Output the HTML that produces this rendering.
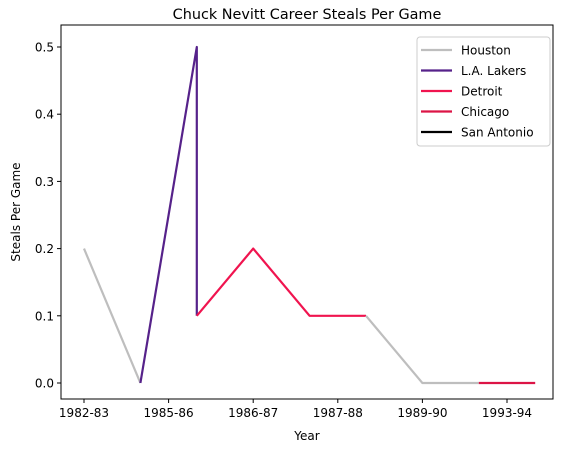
<!DOCTYPE html>
<html><head><meta charset="utf-8"><style>
body{margin:0;background:#fff;font-family:"Liberation Sans","DejaVu Sans",sans-serif}
svg text{font-family:"DejaVu Sans","Liberation Sans",sans-serif;fill:#000}
</style></head><body>
<svg id="c" width="570" height="453" xmlns="http://www.w3.org/2000/svg"></svg>
<script>
const teamNames=["Houston","L.A. Lakers","Detroit","Chicago","San Antonio"];
const teamColors=["#bebebe","#56228a","#f0144f","#dc1446","#000000"];
const houstonA=[[0,0.2],[1,0]];
const lakers=[[1,0],[2,0.5],[2,0.1]];
const detroit=[[2,0.1],[3,0.2],[4,0.1],[5,0.1]];
const houstonB=[[5,0.1],[6,0],[7,0]];
const chicago=[[7,0],[8,0]];
const xTickPos=[0,1.5,3,4.5,6,7.5];
const xTickLabels=["1982-83","1985-86","1986-87","1987-88","1989-90","1993-94"];
const yTicks=[0,0.1,0.2,0.3,0.4,0.5];
const yTickLabels=["0.0","0.1","0.2","0.3","0.4","0.5"];

const svg=document.getElementById('c');const NS="http://www.w3.org/2000/svg";
const L=61,R=553,T=25,B=399;
const X=v=>84+v*56.4;
const Y=v=>383-v*672;
function mk(t,a,p){const e=document.createElementNS(NS,t);for(const k in a)e.setAttribute(k,a[k]);(p||svg).appendChild(e);return e;}
function txt(s,a){const e=mk('text',a);e.textContent=s;return e;}
const series=[[houstonA,0],[lakers,1],[detroit,2],[houstonB,0],[chicago,3]];
series.forEach(([d,ci],i)=>{
 const p=mk('polyline',{points:d.map(q=>X(q[0])+','+Y(q[1])).join(' '),fill:'none',stroke:teamColors[ci],'stroke-width':2.2,'stroke-linejoin':'round'});
 
 
});
const frame=mk('rect',{x:L,y:T,width:R-L,height:B-T,fill:'none',stroke:'#000','stroke-width':1});


xTickPos.forEach((v,i)=>{
 const t=mk('line',{x1:X(v),x2:X(v),y1:B,y2:B+4,stroke:'#000'});
 
 
 const l=txt(xTickLabels[i],{x:X(v),y:B+18,'text-anchor':'middle','font-size':12});
 
 
});
yTicks.forEach((v,i)=>{
 const t=mk('line',{x1:L-4,x2:L,y1:Y(v),y2:Y(v),stroke:'#000'});
 
 
 const l=txt(yTickLabels[i],{x:L-7,y:Y(v)+4.5,'text-anchor':'end','font-size':12});
 
 
});
const ti=txt("Chuck Nevitt Career Steals Per Game",{x:(L+R)/2,y:19,'text-anchor':'middle','font-size':14.4});


const xt=txt("Year",{x:(L+R)/2,y:440,'text-anchor':'middle','font-size':12});


const yt=txt("Steals Per Game",{x:0,y:0,'text-anchor':'middle','font-size':12,transform:'translate(20,'+((T+B)/2)+') rotate(-90)'});


const lg=mk('g',{});


mk('rect',{x:417,y:37,width:133,height:109,rx:3,fill:'#fff',stroke:'#ccc'},lg);
teamNames.forEach((n,i)=>{
 const y=50+i*20.5;
 const e=mk('g',{},lg);
 
 
 mk('line',{x1:421,x2:452,y1:y,y2:y,stroke:teamColors[i],'stroke-width':2.2},e);
 const t=mk('text',{x:461,y:y+4.5,'font-size':12},e);t.textContent=n;
});
</script>
</body></html>
